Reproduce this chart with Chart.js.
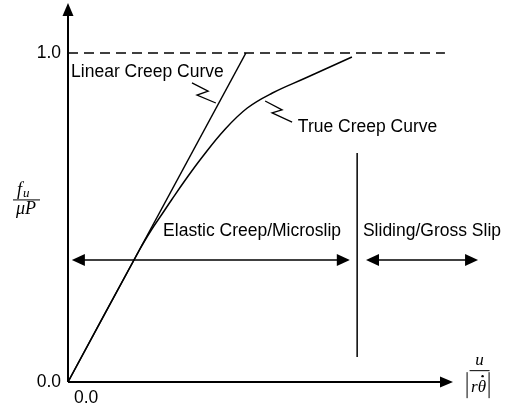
<!DOCTYPE html>
<html>
<head>
<meta charset="utf-8">
<script src="https://cdn.jsdelivr.net/npm/chart.js@4.4.1/dist/chart.umd.min.js"></script>
<style>
body{margin:0;background:#fff;}
#wrap{width:513px;height:415px;}
</style>
</head>
<body>
<div id="wrap"><canvas id="chart"></canvas></div>
<script>
// curves (x = displacement ratio, y = force ratio)
const linearX = [0, 0.462];
const linearY = [0, 1.0];
const trueX = [0, 0.1855, 0.2164, 0.2426, 0.2688, 0.3047, 0.3488, 0.4062, 0.4657, 0.5309, 0.6169, 0.6686, 0.7374];
const trueY = [0, 0.4012, 0.4620, 0.5076, 0.5532, 0.6140, 0.6839, 0.7660, 0.8328, 0.8784, 0.9240, 0.9514, 0.9878];
const limitX = [0, 0.979];
const limitY = [1.0, 1.0];
const splitX = [0.751, 0.751];
const splitY = [0.076, 0.696];
// zigzag leaders
const linearLeaderX = [0.322, 0.364, 0.335, 0.384];
const linearLeaderY = [0.909, 0.884, 0.872, 0.848];
const trueLeaderX = [0.512, 0.556, 0.530, 0.582];
const trueLeaderY = [0.854, 0.827, 0.818, 0.790];
// region arrows
const regionY = 0.371;
const elasticSpan = [0.010, 0.732];
const slidingSpan = [0.774, 1.065];
// ticks
const yTickValues = [0, 1.0];
const yTickLabels = ['0.0', '1.0'];
const xTickValues = [0];
const xTickLabels = ['0.0'];
const xAxisEnd = 1.0, yAxisEnd = 1.152;

const texts = [
    {t:'Linear Creep Curve', x:0.008, y:0.927},
    {t:'True Creep Curve', x:0.597, y:0.760},
    {t:'Elastic Creep/Microslip', x:0.247, y:0.444},
    {t:'Sliding/Gross Slip', x:0.766, y:0.444}
];

const zip = (xs, ys) => xs.map((v, i) => ({x:v, y:ys[i]}));
const line = (xs, ys, extra) => Object.assign({
    data: zip(xs, ys), showLine:true, borderColor:'#000', borderWidth:1.5,
    pointRadius:0, fill:false, clip:false
}, extra || {});

function head(ctx, x, y, ang, len, wid){
    ctx.save();
    ctx.translate(x, y);
    ctx.rotate(ang);
    ctx.beginPath();
    ctx.moveTo(0, 0);
    ctx.lineTo(-len, -wid/2);
    ctx.lineTo(-len, wid/2);
    ctx.closePath();
    ctx.fill();
    ctx.restore();
}

const annotate = {
    id:'annotate',
    afterDatasetsDraw(chart){
        const {ctx, scales:{x, y}} = chart;
        const px = v => x.getPixelForValue(v), py = v => y.getPixelForValue(v);
        ctx.save();
        ctx.strokeStyle = '#000';
        ctx.fillStyle = '#000';
        // axes
        ctx.lineWidth = 2;
        ctx.beginPath();
        ctx.moveTo(px(0), py(0)); ctx.lineTo(px(xAxisEnd) - 10, py(0));
        ctx.moveTo(px(0), py(0)); ctx.lineTo(px(0), py(yAxisEnd) + 10);
        ctx.stroke();
        head(ctx, px(xAxisEnd), py(0), 0, 13, 11);
        head(ctx, px(0), py(yAxisEnd), -Math.PI/2, 13, 11);
        // region arrows
        ctx.lineWidth = 1.5;
        [elasticSpan, slidingSpan].forEach(s => {
            const a = px(s[0]), b = px(s[1]), yy = py(regionY);
            ctx.beginPath(); ctx.moveTo(a + 8, yy); ctx.lineTo(b - 8, yy); ctx.stroke();
            head(ctx, a, yy, Math.PI, 13, 12);
            head(ctx, b, yy, 0, 13, 12);
        });
        // labels
        ctx.font = '17.5px "Liberation Sans", Arial, sans-serif';
        ctx.textBaseline = 'alphabetic';
        ctx.textAlign = 'left';
        texts.forEach(o => ctx.fillText(o.t, px(o.x), py(o.y)));

        // y title: f_u / mu P
        const serif = '"Liberation Serif", "Times New Roman", serif';
        let cx = 26, cy = py(0.555);
        ctx.lineWidth = 1;
        ctx.beginPath(); ctx.moveTo(13, cy + 0.5); ctx.lineTo(40, cy + 0.5); ctx.stroke();
        ctx.font = 'italic 18px ' + serif;
        ctx.fillText('f', 17, cy - 4);
        ctx.font = 'italic 13px ' + serif;
        ctx.fillText('u', 23, cy - 2);
        ctx.font = 'italic 18px ' + serif;
        ctx.textAlign = 'center';
        ctx.fillText('\u03BCP', cx, cy + 15);

        // x title: u / |r theta-dot|
        cx = px(1.069); cy = py(0.036);
        ctx.font = 'italic 17px ' + serif;
        ctx.beginPath(); ctx.moveTo(cx - 10, cy + 0.5); ctx.lineTo(cx + 10, cy + 0.5); ctx.stroke();
        ctx.fillText('u', cx, cy - 5);
        ctx.beginPath();
        ctx.moveTo(cx - 12.5, cy + 2); ctx.lineTo(cx - 12.5, cy + 28);
        ctx.moveTo(cx + 9.5, cy + 2); ctx.lineTo(cx + 9.5, cy + 28);
        ctx.stroke();
        ctx.fillText('r\u03B8', cx - 1, cy + 22);
        ctx.beginPath(); ctx.arc(cx + 3, cy + 6, 1.2, 0, Math.PI*2); ctx.fill();
        ctx.restore();
    }
};

new Chart(document.querySelector('#chart').getContext('2d'), {
    type:'scatter',
    data:{
        datasets:[
            line(linearX, linearY),
            line(trueX, trueY, {tension:0.4}),
            line(limitX, limitY, {borderDash:[10, 6]}),
            line(splitX, splitY),
            line(linearLeaderX, linearLeaderY, {borderWidth:1.3}),
            line(trueLeaderX, trueLeaderY, {borderWidth:1.3})
        ]
    },
    options:{
        responsive:true,
        maintainAspectRatio:false,
        animation:false,
        layout:{padding:{left:0, right:8, top:3, bottom:0}},
        plugins:{legend:{display:false}, tooltip:{enabled:false}},
        scales:{
            x:{
                type:'linear', min:0, max:1.135,
                grid:{display:false, drawTicks:false},
                border:{display:false},
                afterFit: s => { s.height = 33; s.paddingLeft = 0; s.paddingRight = 0; },
                afterBuildTicks: s => { s.ticks = xTickValues.map(v => ({value:v})); },
                ticks:{
                    color:'#000', padding:6, align:'start', labelOffset:6,
                    font:{family:'"Liberation Sans", Arial, sans-serif', size:17.5},
                    callback:(v, i) => xTickLabels[i]
                }
            },
            y:{
                type:'linear', min:0, max:1.152,
                grid:{display:false, drawTicks:false},
                border:{display:false},
                afterFit: s => { s.width = 68; s.paddingTop = 0; s.paddingBottom = 0; },
                afterBuildTicks: s => { s.ticks = yTickValues.map(v => ({value:v})); },
                ticks:{
                    color:'#000', padding:7,
                    font:{family:'"Liberation Sans", Arial, sans-serif', size:17.5},
                    callback:(v, i) => yTickLabels[i]
                }
            }
        }
    },
    plugins:[annotate]
});
</script>
</body>
</html>
